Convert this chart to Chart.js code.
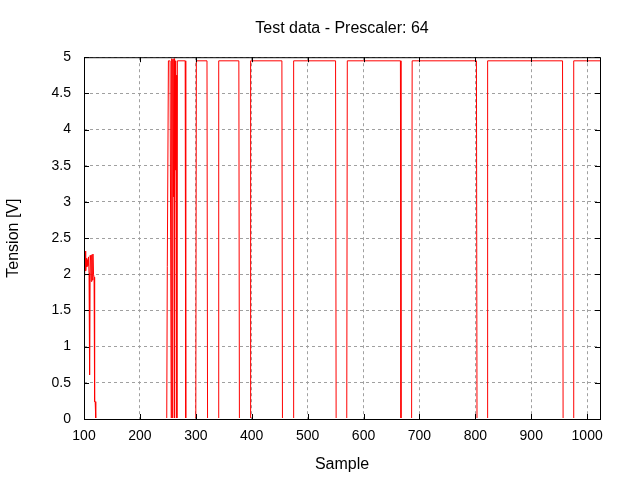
<!DOCTYPE html>
<html>
<head>
<meta charset="utf-8">
<script src="https://cdn.jsdelivr.net/npm/chart.js@4/dist/chart.umd.min.js"></script>
<style>
  html, body { margin: 0; padding: 0; background: #fff; }
  #wrap { width: 640px; height: 480px; }
</style>
</head>
<body>
<div id="wrap"><canvas id="myChart" width="640" height="480"></canvas></div>
<script>
// vertices of the trace (sample index -> tension)
const sampleX = [
    100, 101, 102, 103, 104, 105, 106, 107, 108, 109, 110, 111, 112, 113, 114, 115, 116, 117, 118, 119, 120, 121,
    248, 249, 250, 251, 252, 253, 254, 255, 256, 257, 258, 259, 260, 261, 262, 263, 264, 265, 266, 267,
    281, 282, 300, 301, 320, 321, 340, 341, 377, 378, 397, 398, 454, 455, 474, 475,
    550, 551, 570, 571, 666, 667, 686, 687, 802, 803, 821, 822, 956, 957, 975, 976, 1023
];
const tension = [
    2.28, 1.98, 2.32, 2.05, 2.22, 2.10, 2.20, 2.12, 2.24, 2.02, 0.61, 2.26, 2.20, 1.90, 2.27, 1.92, 2.28, 2.00, 1.96, 0.24, 0.24, 0,
    0, 2.11, 2.11, 4.95, 4.95, 4.95, 4.95, 4.95, 0, 4.98, 0, 4.97, 3.07, 4.98, 0, 4.95, 3.44, 4.75, 0, 4.95,
    4.95, 0, 0, 4.95, 4.95, 0, 0, 4.95, 4.95, 0, 0, 4.95, 4.95, 0, 0, 4.95,
    4.95, 0, 0, 4.95, 4.95, 0, 0, 4.95, 4.95, 0, 0, 4.95, 4.95, 0, 0, 4.95, 4.95
];
const xTicks = [100, 200, 300, 400, 500, 600, 700, 800, 900, 1000];
const yTicks = [0, 0.5, 1, 1.5, 2, 2.5, 3, 3.5, 4, 4.5, 5];

const points = sampleX.map((x, i) => ({ x: x, y: tension[i] }));

// gnuplot style frame with inward tics on all four sides
const framePlugin = {
    id: 'frame',
    afterDraw(chart) {
        const ctx = chart.ctx;
        const a = chart.chartArea;
        const xs = chart.scales.x, ys = chart.scales.y;
        const tic = 5;
        ctx.save();
        ctx.strokeStyle = '#000';
        ctx.lineWidth = 1;
        ctx.beginPath();
        xTicks.forEach(v => {
            const px = Math.round(xs.getPixelForValue(v)) + 0.5;
            ctx.moveTo(px, a.bottom); ctx.lineTo(px, a.bottom - tic);
            ctx.moveTo(px, a.top); ctx.lineTo(px, a.top + tic);
        });
        yTicks.forEach(v => {
            const py = Math.round(ys.getPixelForValue(v)) + 0.5;
            ctx.moveTo(a.left, py); ctx.lineTo(a.left + tic, py);
            ctx.moveTo(a.right, py); ctx.lineTo(a.right - tic, py);
        });
        ctx.stroke();
        ctx.strokeRect(a.left + 0.5, a.top + 0.5, a.right - a.left, a.bottom - a.top);
        ctx.restore();
    }
};

const font = 'Liberation Sans, Arial, sans-serif';

const config = {
    type: 'line',
    data: {
        datasets: [{
            data: points,
            borderColor: '#ff0000',
            borderWidth: 1,
            pointRadius: 0,
            tension: 0,
            fill: false,
            clip: { left: 0, top: 0, right: 0, bottom: -1 }
        }]
    },
    options: {
        responsive: false,
        animation: false,
        layout: { padding: { left: 0, right: 40, top: 0, bottom: 0 } },
        plugins: {
            legend: { display: false },
            tooltip: { enabled: false },
            title: {
                display: true,
                text: 'Test data - Prescaler: 64',
                color: '#000',
                fullSize: false,
                font: { family: font, size: 16, weight: 'normal' },
                padding: { top: 19, bottom: 19 }
            }
        },
        scales: {
            x: {
                type: 'linear',
                min: 100,
                max: 1023,
                afterFit: s => { s.height = 61; },
                afterBuildTicks: s => { s.ticks = xTicks.map(v => ({ value: v })); },
                border: { display: false, dash: [3, 3] },
                grid: { color: '#a0a0a0', drawTicks: false },
                ticks: {
                    color: '#000',
                    padding: 9,
                    maxRotation: 0,
                    autoSkip: false,
                    font: { family: font, size: 14 },
                    callback: v => String(v)
                },
                title: {
                    display: true,
                    text: 'Sample',
                    color: '#000',
                    font: { family: font, size: 16 },
                    padding: { top: 0, bottom: 6 }
                }
            },
            y: {
                min: 0,
                max: 5,
                afterFit: s => { s.width = 84; },
                afterBuildTicks: s => { s.ticks = yTicks.map(v => ({ value: v })); },
                border: { display: false, dash: [3, 3] },
                grid: { color: '#a0a0a0', drawTicks: false },
                ticks: {
                    color: '#000',
                    padding: 13,
                    autoSkip: false,
                    font: { family: font, size: 14 },
                    callback: v => String(v)
                },
                title: {
                    display: true,
                    text: 'Tension [V]',
                    color: '#000',
                    font: { family: font, size: 16 },
                    padding: { top: 4, bottom: 0 }
                }
            }
        }
    },
    plugins: [framePlugin]
};

const myChart = new Chart(document.getElementById('myChart'), config);
</script>
</body>
</html>
